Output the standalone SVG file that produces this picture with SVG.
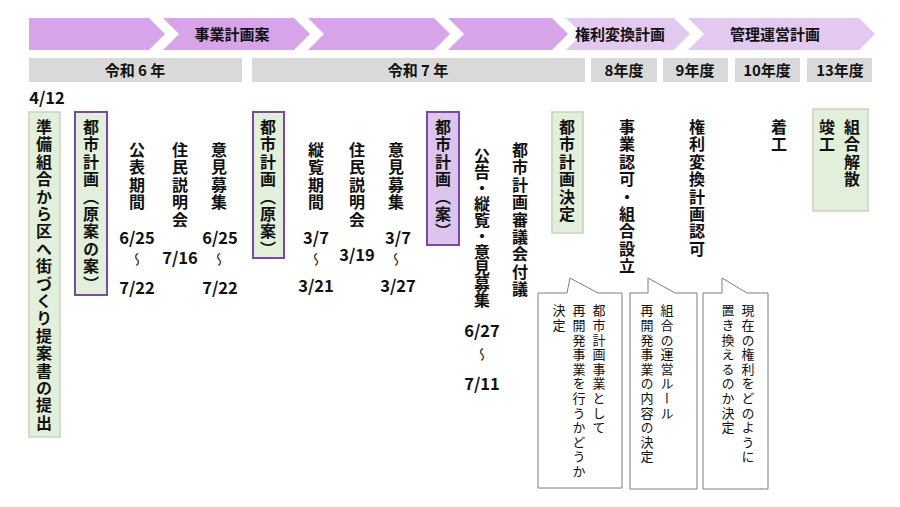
<svg xmlns="http://www.w3.org/2000/svg" width="900" height="507" viewBox="0 0 900 507">
<style>
text{font-family:"Noto Sans CJK JP","Liberation Sans",sans-serif;fill:#111;font-weight:bold}
.v{writing-mode:vertical-rl;font-size:16px;letter-spacing:1.4px}
.c{writing-mode:vertical-rl;font-size:13px;letter-spacing:1.6px;font-weight:normal}
.h{font-size:15px;text-anchor:middle}
.d{font-size:16.5px;text-anchor:middle;font-weight:600}
.w{writing-mode:vertical-rl;font-weight:normal;font-size:14px}
.yr{fill:#d9d9d9}
.pc{fill:#d7a3e9}
.lc{fill:#e3c9f0}
.gb{fill:#e2efda;stroke:#c6d3be;stroke-width:1.5}
.pb{fill:#e2efda;stroke:#7a4a9e;stroke-width:2}
.call{fill:#fff;stroke:#7f7f7f;stroke-width:1}
</style>
<rect width="900" height="507" fill="#fff"/>
<g id="band">
<polygon class="pc" points="29,18 149,18 165,34 149,50 29,50"/>
<polygon class="pc" points="163,18 294,18 310,34 294,50 163,50 179,34"/>
<polygon class="pc" points="308,18 434,18 450,34 434,50 308,50 324,34"/>
<polygon class="pc" points="448,18 552,18 568,34 552,50 448,50 464,34"/>
<polygon class="lc" points="566,18 674,18 690,34 674,50 566,50 582,34"/>
<polygon class="lc" points="688,18 859,18 875,34 859,50 688,50 704,34"/>
<text class="h" x="232" y="40">事業計画案</text>
<text class="h" x="620" y="40">権利変換計画</text>
<text class="h" x="775" y="40">管理運営計画</text>
</g>
<g id="years">
<rect class="yr" x="29" y="58" width="213" height="24"/>
<rect class="yr" x="252" y="58" width="333" height="24"/>
<rect class="yr" x="591" y="58" width="66" height="24"/>
<rect class="yr" x="663" y="58" width="65" height="24"/>
<rect class="yr" x="735" y="58" width="65" height="24"/>
<rect class="yr" x="807" y="58" width="65" height="24"/>
<text class="h" x="135" y="76">令和 6 年</text>
<text class="h" x="418" y="76">令和 7 年</text>
<text class="h" x="624" y="76">8年度</text>
<text class="h" x="695" y="76">9年度</text>
<text class="h" x="767" y="76">10年度</text>
<text class="h" x="840" y="76">13年度</text>
</g>
<text class="d" x="47" y="104">4/12</text>
<g id="n1"><rect class="gb" x="29" y="112" width="31" height="325"/><text class="v" x="44" y="119">準備組合から区へ街づくり提案書の提出</text></g>
<g id="n2"><rect class="pb" x="75" y="112" width="32" height="183"/><text class="v" x="91" y="119">都市計画（原案の案）</text></g>
<g id="n3"><text class="v" x="137" y="142">公表期間</text><text class="v" x="180" y="142">住民説明会</text><text class="v" x="219" y="142">意見募集</text>
<text class="d" x="137" y="244">6/25</text><text class="d" x="220" y="244">6/25</text><text class="d" x="180" y="264">7/16</text>
<text class="w" x="137" y="252">〜</text><text class="w" x="219" y="252">〜</text>
<text class="d" x="137" y="294">7/22</text><text class="d" x="220" y="294">7/22</text></g>
<g id="n4"><rect class="pb" x="253" y="112" width="31" height="146"/><text class="v" x="268" y="119">都市計画（原案）</text></g>
<g id="n5"><text class="v" x="316" y="142">縦覧期間</text><text class="v" x="357" y="142">住民説明会</text><text class="v" x="396" y="142">意見募集</text>
<text class="d" x="316" y="244">3/7</text><text class="d" x="398" y="244">3/7</text><text class="d" x="357" y="261">3/19</text>
<text class="w" x="316" y="252">〜</text><text class="w" x="396" y="252">〜</text>
<text class="d" x="316" y="292">3/21</text><text class="d" x="398" y="292">3/27</text></g>
<g id="n6"><rect class="pb" x="427" y="112" width="32" height="133" style="fill:#dcc4ec"/><text class="v" x="443" y="119">都市計画（案）</text></g>
<g id="n7"><text class="v" x="482" y="148" style="letter-spacing:0">公告・縦覧・意見募集</text>
<text class="d" x="482" y="337">6/27</text><text class="w" x="482" y="347">〜</text><text class="d" x="482" y="390">7/11</text></g>
<g id="n8"><text class="v" x="520" y="142">都市計画審議会付議</text></g>
<g id="n9"><rect class="gb" x="552" y="112" width="31" height="121"/><text class="v" x="567" y="119">都市計画決定</text></g>
<g id="n10"><text class="v" x="627" y="119">事業認可・組合設立</text></g>
<g id="n11"><text class="v" x="697" y="119">権利変換計画認可</text></g>
<g id="n12"><text class="v" x="779" y="119">着工</text></g>
<g id="n13"><rect class="gb" x="813" y="109" width="55" height="102"/><text class="v" x="827" y="119">竣工</text><text class="v" x="852" y="119">組合解散</text></g>
<g id="callouts">
<path class="call" d="M538,293 H567 L570,278 L598,293 H622 V488 H538 Z"/>
<text class="c" x="599" y="304">都市計画事業として</text><text class="c" x="579" y="304">再開発事業を行うかどうか</text><text class="c" x="559" y="304">決定</text>
<path class="call" d="M630,293 H648 L648,278 L675,293 H697 V489 H630 Z"/>
<text class="c" x="667" y="304">組合の運営ルール</text><text class="c" x="647" y="304">再開発事業の内容の決定</text>
<path class="call" d="M703,293 H722 L722,278 L747,293 H768 V489 H703 Z"/>
<text class="c" x="748" y="304">現在の権利をどのように</text><text class="c" x="728" y="304">置き換えるのか決定</text>
</g>
</svg>
